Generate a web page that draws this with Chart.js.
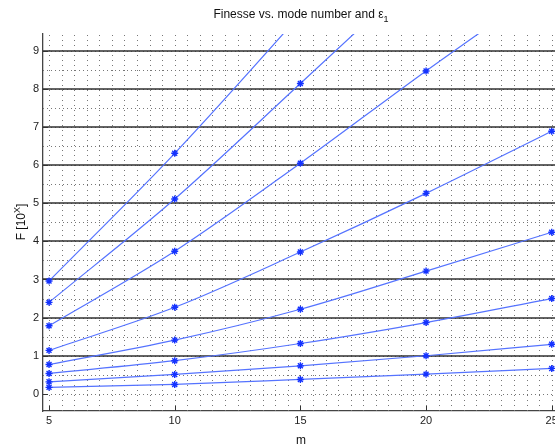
<!DOCTYPE html>
<html>
<head>
<meta charset="utf-8">
<script src="https://cdn.jsdelivr.net/npm/chart.js@4/dist/chart.umd.min.js"></script>
<style>
  html, body { margin: 0; padding: 0; background: #fff; overflow: hidden; }
  canvas { display: block; }
</style>
</head>
<body>
<canvas id="c" width="555" height="446"></canvas>
<script>
// ---- data ----
const modeNumbers = [5, 10, 15, 20, 25];
const series1 = [2.96, 6.31, 9.95, 13.7, 17.5];
const series2 = [2.40, 5.11, 8.14, 11.2, 14.3];
const series3 = [1.785, 3.74, 6.05, 8.47, 10.8];
const series4 = [1.14, 2.27, 3.72, 5.26, 6.89];
const series5 = [0.77, 1.41, 2.22, 3.22, 4.24];
const series6 = [0.535, 0.87, 1.32, 1.87, 2.50];
const series7 = [0.315, 0.51, 0.735, 1.00, 1.30];
const series8 = [0.17, 0.247, 0.378, 0.517, 0.667];
const allSeries = [series1, series2, series3, series4, series5, series6, series7, series8];
const xTickValues = [5, 10, 15, 20, 25];
const yTickValues = [0, 1, 2, 3, 4, 5, 6, 7, 8, 9];

const titleText = 'Finesse vs. mode number and ε';
const titleSub = '1';
const xLabel = 'm';
const yLabelMain = 'F [10';
const yLabelSup = 'X';
const yLabelEnd = ']';

const FONT = "'Liberation Sans', Arial, Helvetica, sans-serif";
const LINE_COLOR = 'rgb(85,115,255)';
const MARK_COLOR = 'rgb(20,50,255)';

const datasets = allSeries.map(vals => ({
  data: modeNumbers.map((m, i) => ({ x: m, y: vals[i] })),
  borderColor: LINE_COLOR,
  borderWidth: 1.2,
  pointStyle: 'star',
  pointRadius: 3.5,
  pointBorderColor: MARK_COLOR,
  pointBackgroundColor: MARK_COLOR,
  pointBorderWidth: 1.4,
  cubicInterpolationMode: 'monotone',
  fill: false,
  clip: 0
}));

const matlabPlugin = {
  id: 'matlabDecor',
  beforeDatasetsDraw(chart) {
    const { ctx, chartArea: a, scales: { x, y } } = chart;
    ctx.save();
    ctx.beginPath();
    ctx.rect(a.left, a.top, a.right - a.left, a.bottom - a.top);
    ctx.clip();
    // vertical dotted minor grid every 0.5
    ctx.strokeStyle = '#777';
    ctx.lineWidth = 1;
    ctx.setLineDash([1, 4]);
    for (let v = 5; v <= 25.001; v += 0.5) {
      const px = Math.round(x.getPixelForValue(v)) + 0.5;
      ctx.beginPath();
      ctx.moveTo(px, a.bottom);
      ctx.lineTo(px, a.top);
      ctx.stroke();
    }
    // horizontal dotted grid every 0.5
    ctx.strokeStyle = '#777';
    ctx.setLineDash([1, 3]);
    for (let v = 0; v <= 9.001; v += 0.5) {
      const py = Math.round(y.getPixelForValue(v)) + 0.5;
      ctx.beginPath();
      ctx.moveTo(a.left, py);
      ctx.lineTo(a.right, py);
      ctx.stroke();
    }
    // solid decade lines
    ctx.setLineDash([]);
    ctx.strokeStyle = '#303030';
    ctx.lineWidth = 1.5;
    for (let v = 1; v <= 9; v++) {
      const py = Math.round(y.getPixelForValue(v));
      ctx.beginPath();
      ctx.moveTo(a.left, py);
      ctx.lineTo(a.right, py);
      ctx.stroke();
    }
    ctx.restore();

    // inside tick marks
    ctx.save();
    ctx.strokeStyle = '#333';
    ctx.lineWidth = 1;
    xTickValues.forEach(v => {
      const px = Math.round(x.getPixelForValue(v)) + 0.5;
      ctx.beginPath(); ctx.moveTo(px, a.bottom); ctx.lineTo(px, a.bottom - 5); ctx.stroke();
    });
    yTickValues.forEach(v => {
      const py = Math.round(y.getPixelForValue(v)) + 0.5;
      ctx.beginPath(); ctx.moveTo(a.left, py); ctx.lineTo(a.left + 5, py); ctx.stroke();
    });
    ctx.restore();
  },
  afterDraw(chart) {
    const { ctx } = chart;
    ctx.save();
    ctx.fillStyle = '#111';
    // title
    ctx.font = '12px ' + FONT;
    ctx.textBaseline = 'alphabetic';
    const tw = ctx.measureText(titleText).width;
    ctx.font = '9px ' + FONT;
    const sw = ctx.measureText(titleSub).width;
    const cx = 301;
    const tx = cx - (tw + sw) / 2;
    ctx.font = '12px ' + FONT;
    ctx.textAlign = 'left';
    ctx.fillText(titleText, tx, 18);
    ctx.font = '9px ' + FONT;
    ctx.fillText(titleSub, tx + tw, 22);
    // x label
    ctx.font = '12px ' + FONT;
    ctx.textAlign = 'center';
    ctx.fillText(xLabel, 301, 444);
    // y label rotated
    ctx.translate(24.5, 222);
    ctx.rotate(-Math.PI / 2);
    ctx.font = '12px ' + FONT;
    const w1 = ctx.measureText(yLabelMain).width;
    const w3 = ctx.measureText(yLabelEnd).width;
    ctx.font = '9px ' + FONT;
    const w2 = ctx.measureText(yLabelSup).width;
    let sx = -(w1 + w2 + w3) / 2;
    ctx.textAlign = 'left';
    ctx.font = '12px ' + FONT;
    ctx.fillText(yLabelMain, sx, 0);
    ctx.font = '9px ' + FONT;
    ctx.fillText(yLabelSup, sx + w1, -5);
    ctx.font = '12px ' + FONT;
    ctx.fillText(yLabelEnd, sx + w1 + w2, 0);
    ctx.restore();
  }
};

new Chart(document.getElementById('c'), {
  type: 'line',
  data: { datasets },
  options: {
    responsive: false,
    animation: false,
    devicePixelRatio: 1,
    layout: { autoPadding: false, padding: { top: 34, left: 0, right: 0, bottom: 0 } },
    plugins: { legend: { display: false }, title: { display: false }, tooltip: { enabled: false } },
    scales: {
      x: {
        type: 'linear',
        min: 4.76,
        max: 25.13,
        afterBuildTicks: s => { s.ticks = xTickValues.map(v => ({ value: v })); },
        afterFit: s => { s.height = 35; s.paddingLeft = 0; s.paddingRight = 0; },
        ticks: { autoSkip: false, maxRotation: 0, padding: 3, color: '#222', font: { family: FONT, size: 11 } },
        grid: { display: false, drawTicks: false },
        border: { display: true, color: '#444', width: 1.3 }
      },
      y: {
        type: 'linear',
        min: -0.45,
        max: 9.44,
        afterBuildTicks: s => { s.ticks = yTickValues.map(v => ({ value: v })); },
        afterFit: s => { s.width = 43; s.paddingTop = 0; s.paddingBottom = 0; },
        ticks: { autoSkip: false, padding: 4, color: '#222', font: { family: FONT, size: 11 } },
        grid: { display: false, drawTicks: false },
        border: { display: true, color: '#444', width: 1.3 }
      }
    }
  },
  plugins: [matlabPlugin]
});
</script>
</body>
</html>
